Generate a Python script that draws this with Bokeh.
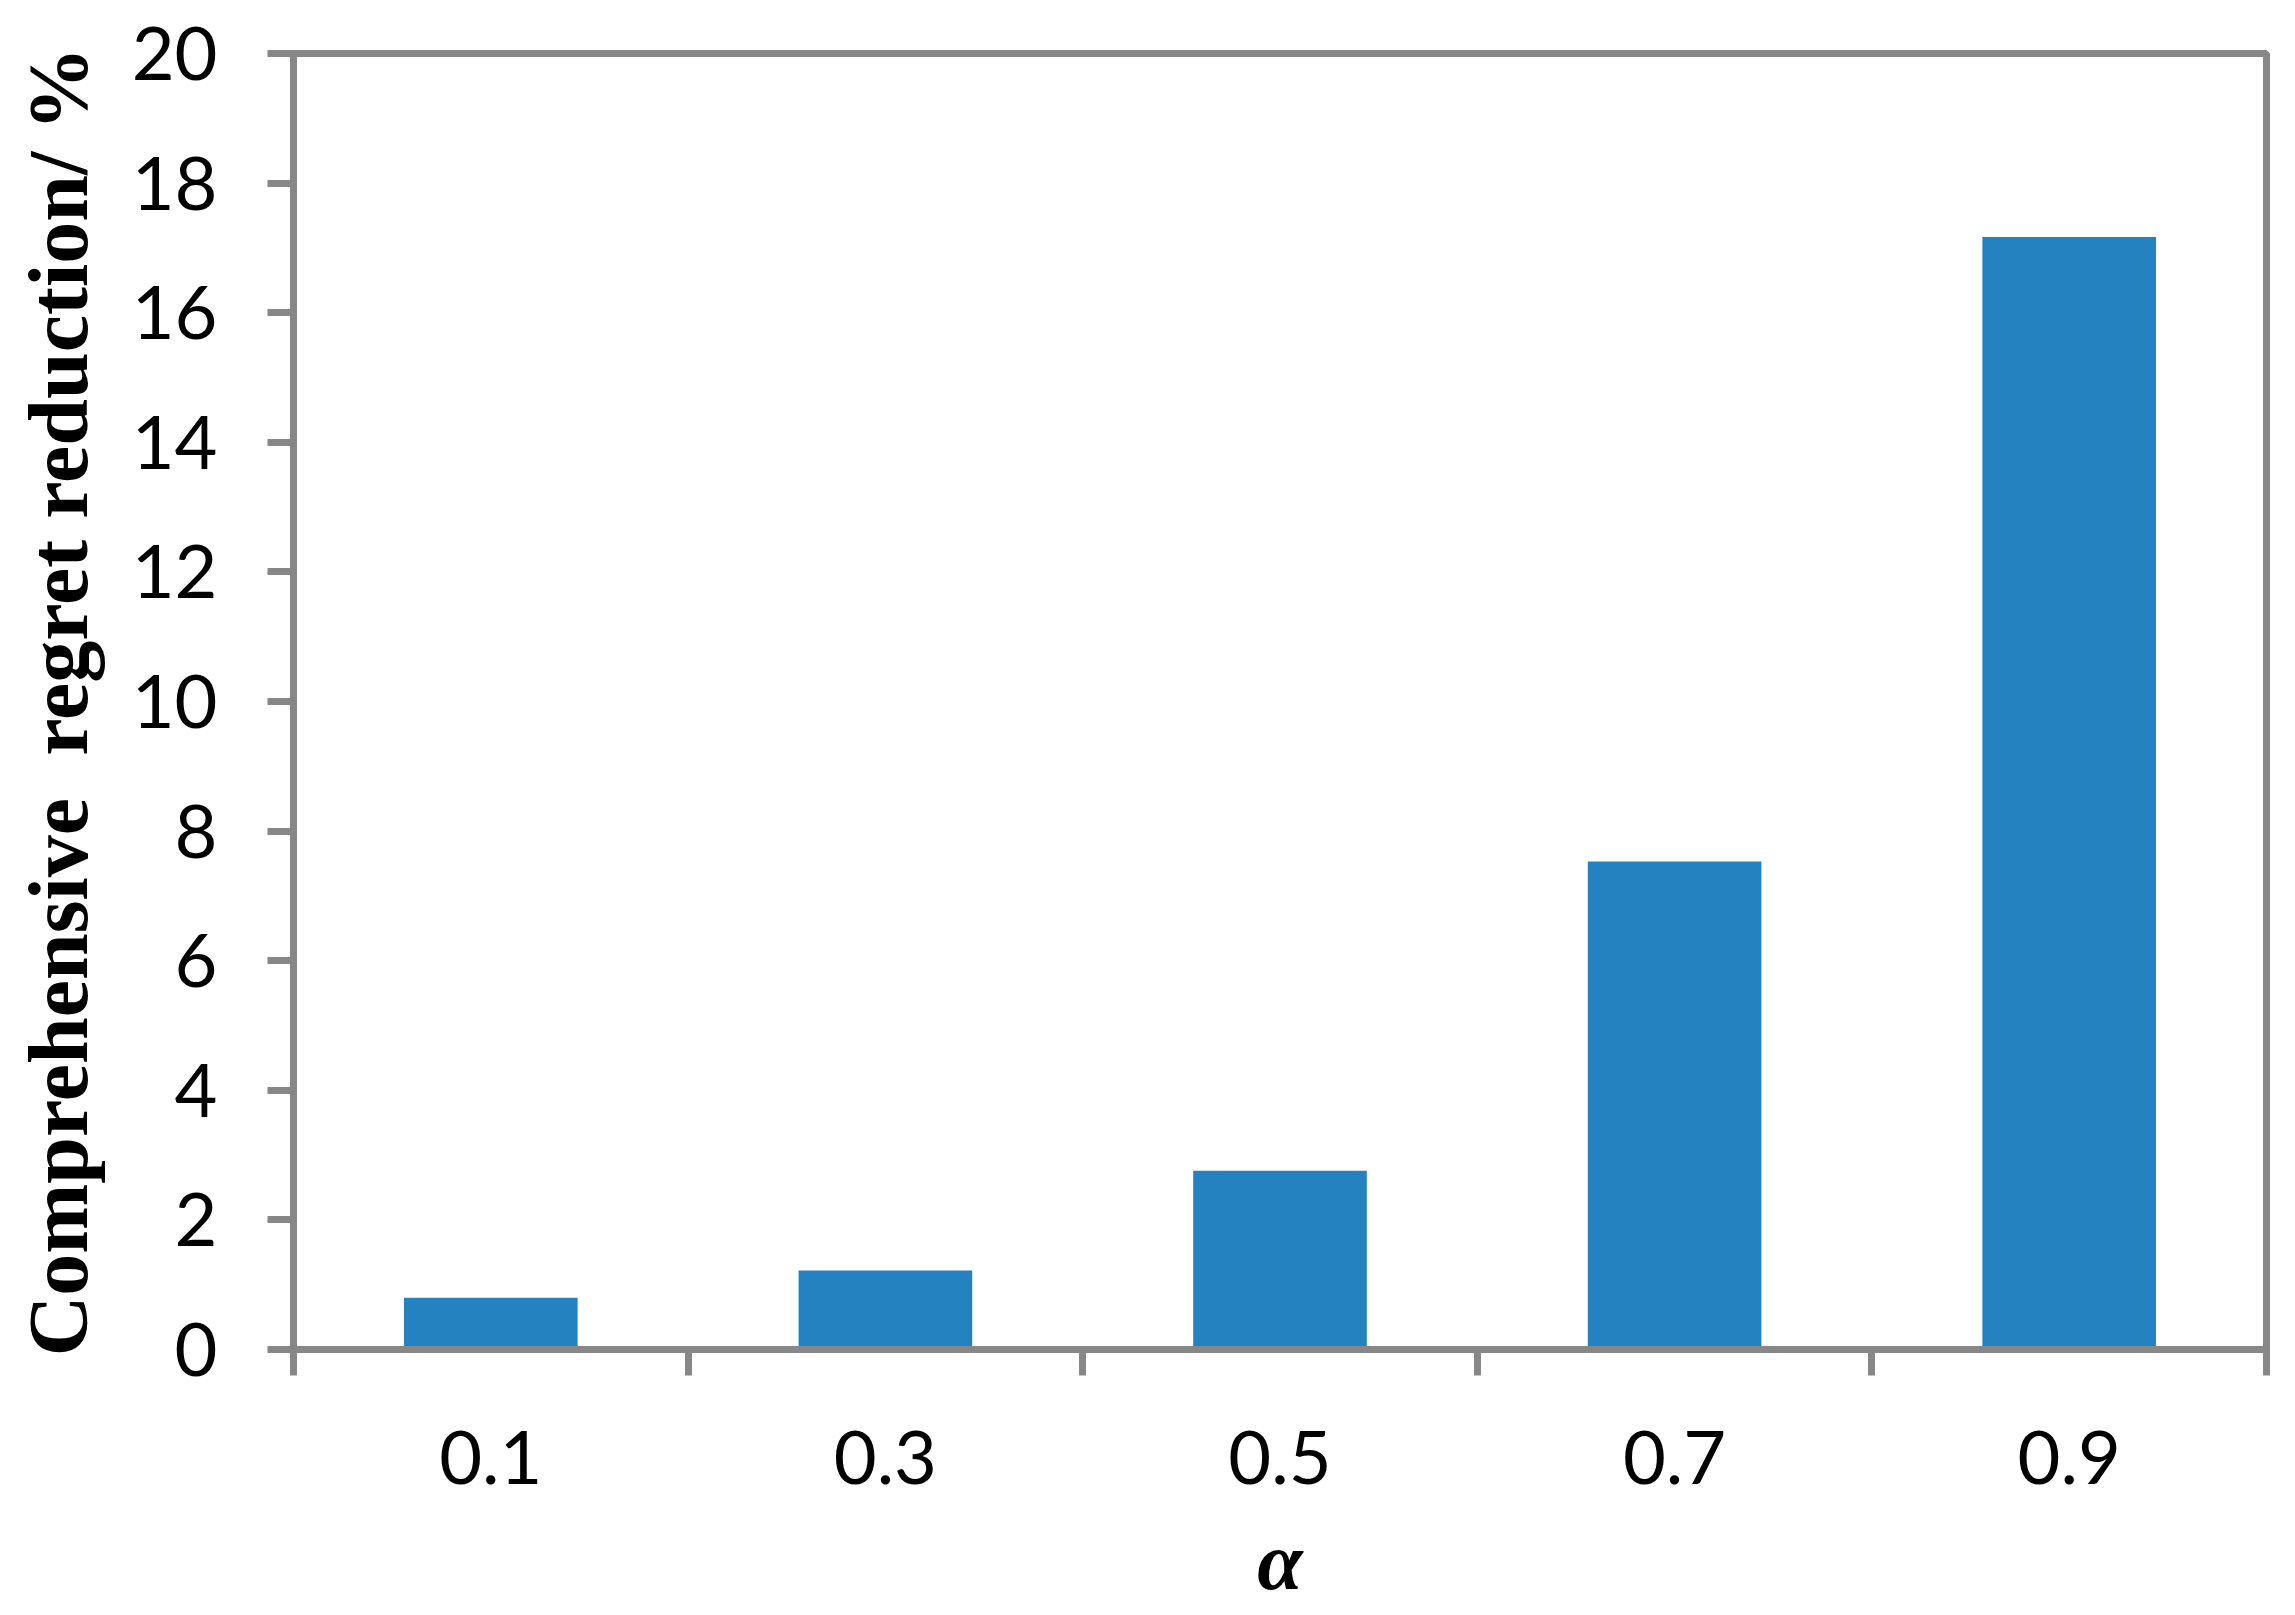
from bokeh.plotting import figure
from bokeh.models import Range1d, FixedTicker
from bokeh.embed import file_html
from bokeh.resources import INLINE

categories = ["0.1", "0.3", "0.5", "0.7", "0.9"]
values = [0.80, 1.22, 2.76, 7.53, 17.17]
y_ticks = [0, 2, 4, 6, 8, 10, 12, 14, 16, 18, 20]
x_title = "α"
y_title = "Comprehensive\u00a0 regret reduction/ %"

GRAY = "#878787"
BAR = "#2582C0"

centers = [i + 0.5 for i in range(len(categories))]
bounds = [i for i in range(len(categories) + 1)]

p = figure(width=2280, height=1612, output_backend="svg", toolbar_location=None,
           x_range=Range1d(0, len(categories)), y_range=Range1d(0, 20),
           min_border_left=293, min_border_top=53, min_border_right=14, min_border_bottom=263)

p.vbar(x=centers, top=values, width=0.44, fill_color=BAR, line_color=None)

p.grid.visible = False
p.outline_line_color = GRAY
p.outline_line_width = 7
p.background_fill_color = "white"
p.border_fill_color = "white"

# x axis
xa = p.xaxis[0]
xa.ticker = FixedTicker(ticks=centers, minor_ticks=bounds)
xa.major_label_overrides = {c: lab for c, lab in zip(centers, categories)}
xa.major_tick_out = 0
xa.major_tick_in = 0
xa.minor_tick_out = 26
xa.minor_tick_in = 0
xa.minor_tick_line_width = 7
xa.minor_tick_line_color = GRAY
xa.axis_line_color = GRAY
xa.axis_line_width = 7
xa.major_label_text_font = "Lato"
xa.major_label_text_font_size = "74px"
xa.major_label_text_color = "black"
xa.major_label_text_line_height = 1.0
xa.major_label_standoff = 55
xa.axis_label = x_title
xa.axis_label_text_font = "Liberation Serif"
xa.axis_label_text_font_style = "bold italic"
xa.axis_label_text_font_size = "82px"
xa.axis_label_text_color = "black"
xa.axis_label_text_line_height = 1.0
xa.axis_label_standoff = 29

# y axis
ya = p.yaxis[0]
ya.ticker = FixedTicker(ticks=y_ticks)
ya.major_tick_out = 26
ya.major_tick_in = 0
ya.major_tick_line_width = 7
ya.major_tick_line_color = GRAY
ya.minor_tick_out = 0
ya.minor_tick_in = 0
ya.axis_line_color = GRAY
ya.axis_line_width = 7
ya.major_label_text_font = "Lato"
ya.major_label_text_font_size = "74px"
ya.major_label_text_color = "black"
ya.major_label_standoff = 50
ya.axis_label = y_title
ya.axis_label_text_font = "Liberation Serif"
ya.axis_label_text_font_style = "bold"
ya.axis_label_text_font_size = "84px"
ya.axis_label_text_color = "black"
ya.axis_label_standoff = 24

open("out.html", "w").write(file_html(p, INLINE))
